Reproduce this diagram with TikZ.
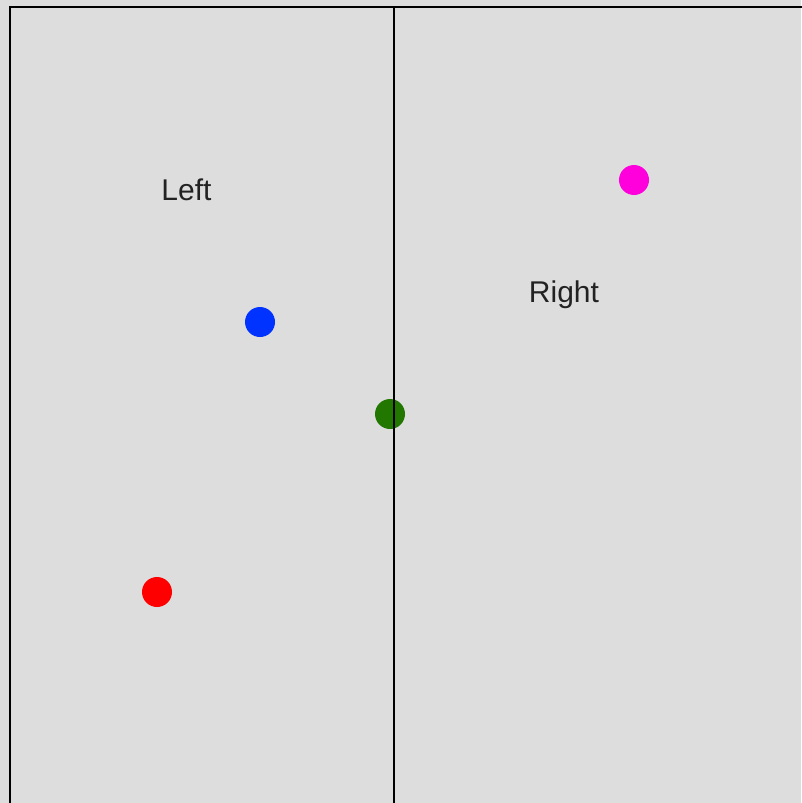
\documentclass[tikz,border=0pt]{standalone}
\usepackage{fontspec}
\setmainfont{Liberation Sans}
\definecolor{bg}{HTML}{DDDDDD}
\definecolor{dotblue}{HTML}{0033FF}
\definecolor{dotred}{HTML}{FF0000}
\definecolor{dotmag}{HTML}{FF00DD}
\definecolor{dotgreen}{HTML}{227700}
\definecolor{txt}{HTML}{222222}
\begin{document}
\begin{tikzpicture}[x=1pt,y=-1pt,
  dot/.style={circle,inner sep=0pt,minimum size=30pt},
  lbl/.style={anchor=base,inner sep=0pt,text=txt,font=\fontsize{30}{35}\selectfont}]
\fill[bg] (0,0) rectangle (801,803);
\useasboundingbox (0,0) rectangle (801,803);
\draw[line width=2.4pt] (10,820) -- (10,7) -- (820,7);
\coordinate (top) at (394,7);
\coordinate (bot) at (394,803);
\node[dot,fill=dotgreen] (g) at (390,414) {};
\draw[line width=2.4pt] (top) -- (bot);
\node[dot,fill=dotmag] (m) at (634,180) {};
\node[dot,fill=dotblue] (b) at (260,322) {};
\node[dot,fill=dotred] (r) at (157,592) {};
\node[lbl] (l) at (186.5,200) {Left};
\node[lbl] (rt) at (564,302) {Right};
\end{tikzpicture}
\end{document}
